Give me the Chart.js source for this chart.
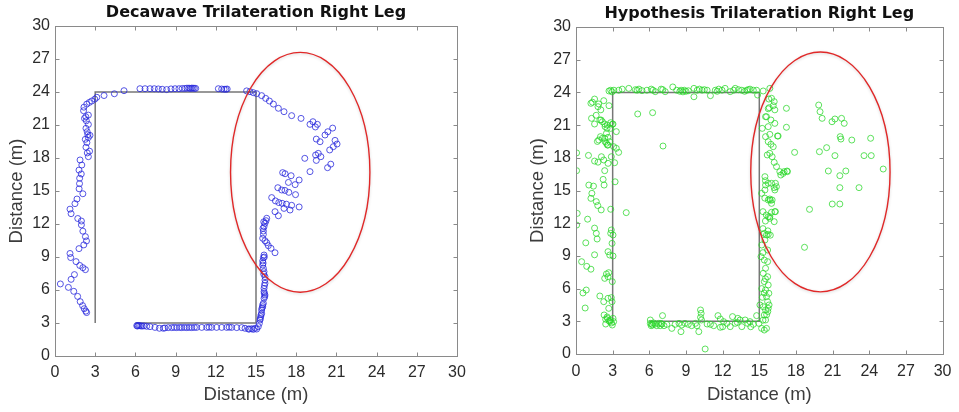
<!DOCTYPE html>
<html>
<head>
<meta charset="utf-8">
<script src="https://cdn.jsdelivr.net/npm/chart.js@4.4.1/dist/chart.umd.min.js"></script>
<style>
  html, body { margin:0; padding:0; background:#ffffff; }
  #wrap { position:relative; width:959px; height:412px; overflow:hidden; background:#fff; }
  canvas { position:absolute; top:0; }
</style>
</head>
<body>
<div id="wrap">
  <canvas id="left" width="480" height="412" style="left:0"></canvas>
  <canvas id="right" width="479" height="412" style="left:480px"></canvas>
</div>
<script>
// ---------------- DATA ----------------
const chartTitles = ['Decawave Trilateration Right Leg', 'Hypothesis Trilateration Right Leg'];
const axisLabel = 'Distance (m)';
const tickValues = [0, 3, 6, 9, 12, 15, 18, 21, 24, 27, 30];

// reference walking path (gray line)
const pathX = [3, 3, 15, 15, 6];
const pathY = [3, 24, 24, 3, 3];

// highlighted region (red ellipse): centre and semi-axes in data units
const ellipseLeft  = { cx: 18.3, cy: 16.7, rx: 5.2, ry: 10.9 };
const ellipseRight = { cx: 20.0, cy: 16.7, rx: 5.7, ry: 11.0 };

// Decawave estimates [x, y]
const decawavePoints = [
  [0.4,6.55],[1.0,6.24],[1.2,6.97],[1.45,7.4],[1.4,5.88],[1.69,5.42],[1.88,4.94],[2.06,4.58],[2.18,4.3],[2.3,4.08],[2.36,3.95],
  [1.12,9.32],[1.17,8.95],[1.57,8.58],[1.85,8.23],[2.08,8.03],[2.27,7.85],
  [1.79,9.76],[2.15,10.1],[2.35,10.46],[2.27,10.85],[2.08,11.35],[1.97,11.92],[1.97,12.27],[1.7,12.5],
  [1.12,13.35],[1.2,12.94],[1.49,13.85],[1.64,14.27],[2.08,14.75],[1.8,15.2],[1.83,15.67],[1.84,16.16],[1.96,16.55],[1.79,16.9],[2.0,17.36],[1.87,17.82],
  [2.49,18.12],[2.41,18.46],[2.58,18.62],[2.31,18.98],[2.38,19.4],[2.26,19.7],[2.49,19.86],[2.61,20.06],[2.45,20.12],[2.4,20.39],[2.31,20.7],[2.49,21.05],[2.34,21.38],[2.2,21.6],[2.49,21.9],[2.3,21.75],[2.13,22.3],[2.16,22.62],[2.37,22.9],[2.56,23.05],[2.74,23.18],[2.97,23.35],[3.12,23.52],[3.66,23.68],[4.43,23.84],[5.15,24.12],
  [6.34,24.3],[6.72,24.3],[7.09,24.3],[7.41,24.3],[7.71,24.28],[8.0,24.25],[8.33,24.22],[8.66,24.28],[8.96,24.3],[9.25,24.3],[9.5,24.32],[9.7,24.32],[9.85,24.35],[10.0,24.35],[10.1,24.32],[10.2,24.35],[10.3,24.35],[10.4,24.33],[10.5,24.33],[12.19,24.3],[12.44,24.27],[12.62,24.25],[12.75,24.25],[12.85,24.27],
  [14.3,24.1],[14.55,24.03],[14.8,23.94],[15.05,23.85],[15.42,23.67],[15.72,23.42],[16.0,23.18],[16.3,22.9],[16.67,22.52],[17.09,22.21],[17.66,21.85],[18.36,21.6],
  [19.03,21.06],[19.25,21.3],[19.58,21.06],[19.43,20.82],[20.72,20.72],[20.36,20.39],[20.15,20.09],[19.5,19.72],[19.78,19.48],[20.9,19.6],[21.05,19.27],[20.77,19.03],[20.5,18.73],[19.45,18.27],[19.65,18.42],[19.84,18.12],[19.5,17.78],[18.64,17.97],[20.58,17.44],[20.34,17.12],[19.03,16.76],
  [16.99,16.67],[17.17,16.57],[17.62,16.39],[17.42,15.78],[17.92,15.58],[18.22,16.0],[16.63,15.3],[16.92,15.09],[17.16,15.05],[17.45,14.88],[17.95,14.67],[16.17,14.4],[16.45,14.1],[16.7,13.95],[16.95,13.88],[17.27,13.8],[17.66,13.7],[17.09,13.42],[17.54,13.27],[18.22,13.55],[16.42,13.12],[16.67,12.75],
  [15.8,12.52],[15.75,12.3],[15.67,12.06],[15.6,11.76],[15.55,11.36],[15.55,11.06],[15.5,10.7],[15.67,10.48],[15.8,10.3],[15.92,10.03],[16.12,9.79],[16.42,9.39],[15.6,9.18],[15.55,8.94],[15.5,8.64],[15.5,8.27],[15.55,7.97],[15.6,7.67],[15.67,7.21],[15.67,6.91],[15.67,6.61],[15.6,6.15],[15.6,5.85],[15.67,5.55],[15.6,5.24],[15.55,4.79],[15.5,4.48],[15.42,4.18],[15.42,3.88],[15.35,3.58],[15.3,3.27],[15.25,2.97],[15.17,2.67],[15.05,2.45],[14.8,2.42],[14.5,2.45],
  [15.58,12.2],[15.52,11.6],[15.62,9.0],[15.53,8.45],[15.58,7.45],[15.63,6.4],[15.62,5.7],[15.65,5.4],[15.5,4.65],[15.45,4.35],[15.38,3.75],[15.32,3.4],
  [6.1,2.76],[6.15,2.72],[6.2,2.78],[6.3,2.76],[6.4,2.74],[6.5,2.72],[6.64,2.74],[6.84,2.7],[7.09,2.67],[7.46,2.6],[7.79,2.52],[8.08,2.52],[8.2,2.55],[8.45,2.58],[8.71,2.58],[8.9,2.6],[9.08,2.58],[9.3,2.6],[9.45,2.58],[9.65,2.6],[9.83,2.58],[10.02,2.6],[10.2,2.58],[10.4,2.6],[10.57,2.6],[10.95,2.6],[11.32,2.6],[11.5,2.62],[11.69,2.6],[12.06,2.6],[12.44,2.6],[12.81,2.6],[13.0,2.62],[13.18,2.6],[13.56,2.58],[13.93,2.58],[14.18,2.52],[14.43,2.45],[14.68,2.48],[14.93,2.52]
];

// Hypothesis estimates [x, y]
const hypothesisPoints = [
  [0.05,18.45],[0.05,16.82],[0.1,12.9],[0.05,11.83],[0.8,10.2],[0.46,8.47],[0.88,8.04],[1.22,7.78],[0.57,5.6],[0.84,5.87],[0.75,4.22],[0.95,12.37],[1.05,15.5],[1.43,15.4],[1.3,14.74],[1.22,14.28],[1.02,18.22],[1.52,11.55],[1.66,11.07],[1.73,10.55],[1.52,9.1],[1.66,13.98],[1.78,13.62],[2.06,13.22],
  [1.75,19.5],[1.86,19.63],[2.0,19.94],[1.52,21.1],[1.27,21.62],[1.65,21.9],[1.52,23.39],[1.22,23.0],[1.35,23.1],[1.8,22.69],[1.86,22.94],[2.27,23.24],[2.7,22.78],[2.05,21.47],[2.35,21.1],[2.54,20.7],[2.84,21.22],[3.03,21.1],[2.49,20.24],[2.62,19.88],[2.35,19.79],[2.76,19.48],[2.49,19.33],[2.62,19.17],[2.08,18.1],[2.27,17.8],[1.8,17.6],[1.52,17.7],[2.35,16.82],[2.22,16.02],[2.3,15.5],[2.62,17.49],[3.16,17.55],[2.89,18.1],[3.08,19.02],[3.3,18.87],[3.49,18.5],[3.3,20.4],[3.2,15.8],
  [2.03,22.4],[1.95,21.47],[2.16,21.31],[2.38,20.86],[2.57,21.0],[2.16,19.79],[2.38,19.48],[2.57,19.17],[2.84,20.7],[2.97,21.07],
  [2.84,13.28],[2.89,11.38],[3.03,10.92],[2.84,11.07],[2.95,10.15],[2.62,9.39],[2.76,9.08],[3.03,8.99],[2.68,7.46],[2.49,7.34],[2.35,6.94],[2.62,7.09],[2.97,6.64],[1.95,5.32],[2.27,4.8],[2.62,5.11],[2.89,5.17],[2.95,4.8],[2.68,4.19],[2.3,3.58],[2.43,3.18],[2.57,3.27],[2.81,3.12],[3.03,3.27],[2.43,2.75],[2.97,2.66],[2.76,2.97],[3.08,2.97],[2.7,3.05],[2.9,2.85],[2.55,3.4],
  [4.11,12.97],[5.05,22.02],[6.27,22.14],[7.12,19.08],[10.57,0.46],
  [2.7,24.13],[2.84,24.2],[2.95,24.05],[3.1,24.2],[3.5,24.2],[3.78,24.3],[4.32,24.37],[4.86,24.25],[5.0,24.2],[5.15,24.3],[5.4,24.16],[5.8,24.2],[6.16,24.3],[6.3,24.2],[6.49,24.07],[6.97,24.3],[7.1,24.25],[7.3,24.07],[7.92,24.5],[8.24,24.2],[8.5,24.1],[8.6,24.2],[8.75,24.05],[8.86,24.2],[9.0,24.1],[9.19,24.15],[9.65,24.37],[9.92,24.2],[10.1,24.3],[10.32,24.2],[10.5,24.25],[10.73,24.2],[11.0,23.7],[11.4,24.2],[11.55,24.1],[11.68,24.3],[11.95,24.2],[12.2,24.37],[12.62,24.07],[12.9,24.2],[13.03,24.37],[13.3,24.25],[13.57,24.2],[13.8,24.1],[13.97,24.2],[14.1,24.25],[14.24,24.3],[14.51,24.2],[14.78,24.2],[14.86,23.76],[15.32,24.13],[15.86,24.37],[9.65,23.6],
  [16.0,23.46],[16.22,23.15],[16.14,22.78],[15.81,22.6],[15.59,21.77],[15.95,21.47],[16.27,21.16],[16.49,20.0],[15.73,20.86],[15.51,19.94],[15.86,20.15],[15.73,19.48],[15.95,19.24],[16.14,19.02],[15.65,18.26],[15.86,18.41],[16.05,18.1],[16.22,17.58],[16.41,17.19],[16.68,16.73],[17.03,16.73],[17.27,16.79],[15.46,16.27],[15.51,15.5],[15.73,15.66],[16.0,15.66],[16.22,15.26],[16.32,15.66],[15.19,14.74],[15.46,15.05],[15.73,14.13],[15.86,14.22],[16.0,13.82],[15.3,13.06],[15.57,12.75],[15.73,12.6],[16.0,13.0],[16.32,13.06],[15.86,12.45],[16.22,12.14],[15.41,11.07],[15.59,10.92],[15.73,10.98],[15.46,10.46],[15.68,9.54],[15.14,8.93],[15.41,8.62],[15.68,8.47],[15.51,7.86],[15.32,7.4],[15.68,7.09],[15.41,6.64],[15.73,6.33],[15.51,5.87],[15.78,5.57],[15.59,5.26],[15.68,4.8],[15.32,4.34],[15.51,4.04],[15.73,4.19],[15.41,3.58],[15.51,3.12],[15.19,2.35],[15.41,2.2],[15.59,2.35],[15.05,4.5],
  [15.24,20.7],[15.51,21.77],[15.78,23.39],[16.27,22.4],[15.73,22.5],[17.22,22.54],[17.22,20.8],[16.54,20.0],[17.3,16.73],[16.95,16.57],[16.76,16.42],[16.4,15.35],[16.27,15.05],[16.05,14.13],[15.86,12.6],[16.27,13.06],[15.3,9.3],[15.2,10.0],[15.3,11.5],[15.5,12.2],[15.25,5.2],[15.4,5.6],[15.5,6.9],[15.2,6.0],[15.6,3.6],[15.7,3.9],[15.3,3.1],[15.8,4.5],[15.5,15.9],[15.45,14.3],[15.9,14.1],[15.7,11.3],[15.9,10.9],
  [19.86,22.84],[19.97,22.23],[20.14,21.62],[20.95,21.31],[21.19,21.56],[21.73,21.62],[21.95,21.16],[21.62,19.94],[21.68,19.72],[22.57,19.63],[24.11,19.79],[17.89,18.5],[19.92,18.56],[20.51,18.93],[21.19,18.2],[23.57,18.2],[24.16,18.2],[25.14,16.97],[20.65,16.79],[21.59,16.36],[22.08,16.79],[21.59,15.26],[23.16,15.26],[20.97,13.76],[21.59,13.76],[19.11,13.27],[18.7,9.79],
  [6.08,2.81],[6.08,3.12],[6.15,2.6],[6.2,2.75],[6.27,2.66],[6.35,2.85],[6.49,2.75],[6.6,2.6],[6.76,2.81],[6.89,2.6],[6.95,2.8],[7.08,3.52],[7.03,2.75],[7.2,2.6],[7.43,2.72],[7.84,2.35],[8.11,2.72],[8.43,2.81],[8.59,2.05],[8.65,2.66],[8.92,2.81],[9.19,2.72],[9.46,2.6],[9.78,2.81],[10.19,4.04],[10.24,3.73],[10.19,3.36],[10.27,3.12],[10.05,2.05],[10.73,2.75],[11.0,2.72],[11.27,2.6],[11.62,3.52],[11.81,3.21],[11.81,2.45],[12.08,2.97],[12.35,2.81],[12.62,2.51],[12.81,3.43],[13.03,2.81],[13.24,3.27],[13.43,3.12],[13.57,2.51],[13.84,3.12],[14.05,2.81],[14.24,2.97],[14.51,2.72],[14.78,3.52],[14.97,2.81],[14.3,2.5],[12.0,2.5],[13.2,2.9],[9.9,2.6]
];

// ---------------- RENDERING ----------------
const FONT = 'Liberation Sans, Arial, Helvetica, sans-serif';
const TITLE_FONT = 'DejaVu Sans, Liberation Sans, Arial, sans-serif';
const toXY = pts => pts.map(p => ({ x: p[0], y: p[1] }));
const pathData = pathX.map((x, i) => ({ x, y: pathY[i] }));

const framePlugin = {
  id: 'frame',
  afterDatasetsDraw(chart, args, opts) {
    const { ctx, scales: { x, y } } = chart;
    const e = opts.ellipse;
    const cx = x.getPixelForValue(e.cx), cy = y.getPixelForValue(e.cy);
    const rx = Math.abs(x.getPixelForValue(e.cx + e.rx) - cx);
    const ry = Math.abs(y.getPixelForValue(e.cy + e.ry) - cy);
    ctx.save();
    ctx.shadowColor = 'rgba(0,0,0,0.18)';
    ctx.shadowBlur = 3;
    ctx.shadowOffsetY = 1;
    ctx.strokeStyle = '#e02828';
    ctx.lineWidth = 1.4;
    ctx.beginPath();
    ctx.ellipse(cx, cy, rx, ry, 0, 0, Math.PI * 2);
    ctx.stroke();
    ctx.restore();
  },
  afterDraw(chart, args, opts) {
    const { ctx, chartArea: a, scales: { x, y } } = chart;
    ctx.save();
    ctx.strokeStyle = '#8a8a8a';
    ctx.lineWidth = 1;
    const L = Math.round(a.left) + 0.5, R = Math.round(a.right) + 0.5;
    const T = Math.round(a.top) + 0.5, B = Math.round(a.bottom) + 0.5;
    ctx.strokeRect(L, T, R - L, B - T);
    const tl = 4;
    ctx.beginPath();
    tickValues.forEach(v => {
      const px = Math.round(x.getPixelForValue(v)) + 0.5;
      ctx.moveTo(px, B); ctx.lineTo(px, B - tl);
      ctx.moveTo(px, T); ctx.lineTo(px, T + tl);
      const py = Math.round(y.getPixelForValue(v)) + 0.5;
      ctx.moveTo(L, py); ctx.lineTo(L + tl, py);
      ctx.moveTo(R, py); ctx.lineTo(R - tl, py);
    });
    ctx.stroke();
    ctx.fillStyle = '#111';
    ctx.font = 'bold 16px ' + TITLE_FONT;
    ctx.textAlign = 'center';
    ctx.textBaseline = 'alphabetic';
    ctx.fillText(opts.title, (a.left + a.right) / 2, opts.titleY);
    ctx.restore();
  }
};

function makeChart(id, points, color, title, ellipse, pad, xHeight, titleY, xTickPad) {
  return new Chart(document.getElementById(id), {
    type: 'scatter',
    data: {
      datasets: [
        {
          data: toXY(points),
          pointStyle: 'circle',
          pointRadius: 3,
          pointBorderWidth: 1,
          pointBorderColor: color,
          pointBackgroundColor: 'rgba(0,0,0,0)',
          pointHoverRadius: 3,
          showLine: false
        },
        {
          data: pathData,
          showLine: true,
          borderColor: '#777777',
          borderWidth: 1.5,
          pointRadius: 0,
          fill: false,
          tension: 0
        }
      ]
    },
    options: {
      responsive: false,
      animation: false,
      devicePixelRatio: 1,
      events: [],
      layout: { padding: pad },
      plugins: {
        legend: { display: false },
        tooltip: { enabled: false },
        title: { display: false },
        frame: { title, ellipse, titleY }
      },
      scales: {
        x: {
          type: 'linear', min: 0, max: 30,
          afterBuildTicks: s => { s.ticks = tickValues.map(v => ({ value: v })); },
          ticks: { padding: xTickPad, color: '#2b2b2b', font: { family: FONT, size: 16 }, maxRotation: 0, autoSkip: false },
          grid: { display: false, drawTicks: false },
          border: { display: false },
          title: { display: true, text: axisLabel, color: '#3c3c3c', font: { family: FONT, size: 18.5 }, padding: { top: 0, bottom: 6 } },
          afterFit: s => { s.height = xHeight; }
        },
        y: {
          type: 'linear', min: 0, max: 30,
          afterBuildTicks: s => { s.ticks = tickValues.map(v => ({ value: v })); },
          ticks: { padding: 5, color: '#2b2b2b', font: { family: FONT, size: 16 }, autoSkip: false },
          grid: { display: false, drawTicks: false },
          border: { display: false },
          title: { display: true, text: axisLabel, color: '#3c3c3c', font: { family: FONT, size: 18.5 }, padding: { top: 6, bottom: 0 } },
          afterFit: s => { s.width = 55; }
        }
      }
    },
    plugins: [framePlugin]
  });
}

makeChart('left', decawavePoints, 'rgba(40,40,220,0.78)', chartTitles[0], ellipseLeft,
  { left: 0, right: 23, top: 26, bottom: 0 }, 56, 17, 7);
makeChart('right', hypothesisPoints, 'rgba(40,215,40,0.75)', chartTitles[1], ellipseRight,
  { left: 41, right: 13, top: 27, bottom: 0 }, 58, 18, 7.5);
</script>
</body>
</html>
